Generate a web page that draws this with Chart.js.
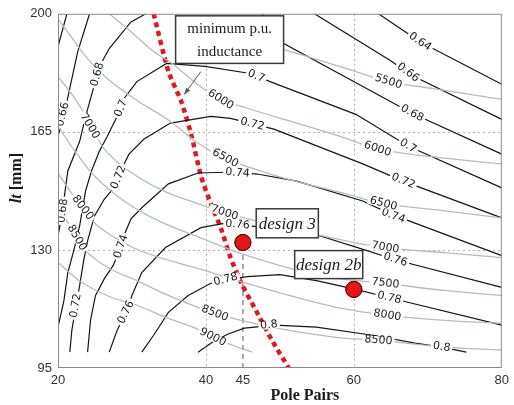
<!DOCTYPE html>
<html>
<head>
<meta charset="utf-8">
<script src="https://cdn.jsdelivr.net/npm/chart.js@4"></script>
<style>
  html, body { margin: 0; padding: 0; background: #fff; }
  #wrap { width: 514px; height: 405px; position: relative; }
</style>
</head>
<body>
<div id="wrap"><canvas id="chart" width="514" height="405"></canvas></div>
<script>
// axis ticks
const xTicks = [20, 40, 45, 60, 80];
const yTicks = [95, 130, 165, 200];

// black contours (p.u. inductance) as [pole pairs, lt]
const ind064a = [[20,190.3],[21.2,200]];
const ind064b = [[63.33,200],[68.93,191.7],[80,179.1]];
const ind066a = [[20,163.7],[21.2,174.0],[22.67,188.8],[24.27,200]];
const ind066b = [[54.67,200],[65.2,185.8],[67.33,182.3],[80,168.7]];
const ind068a = [[20,134.2],[20.5,140.1],[21.33,153.4],[22.93,162.2],[23.73,169.6],[24.67,177.0],[25.6,184.4],[26.93,189.7],[29.87,197.6],[31.87,200]];
const ind068b = [[47.6,200],[50.53,191.2],[67.87,170.5],[80,158.4]];
const ind070 = [[20,107.1],[20.8,115.0],[21.33,123.3],[22.13,129.8],[22.93,137.2],[23.73,147.5],[24.53,153.4],[25.6,159.3],[26.67,163.7],[28.0,169.6],[28.93,174.9],[30.67,179.9],[34.67,185.3],[39.87,184.4],[46.0,182.3],[48.67,179.9],[60.27,170.2],[67.33,160.8],[80,148.4]];
const ind072 = [[21.6,99.7],[21.87,106.2],[22.4,113.0],[22.93,119.5],[23.47,126.8],[24.0,132.7],[24.93,140.1],[26.27,145.1],[27.2,147.5],[28.0,150.4],[28.8,154.9],[29.6,158.4],[31.6,162.8],[35.2,167.6],[40.67,169.6],[43.33,169.0],[49.2,165.8],[61.2,155.5],[66.67,150.4],[80,139.5]];
const ind074 = [[24.0,99.7],[24.4,109.1],[25.07,116.5],[26.27,121.5],[27.47,125.4],[28.27,129.8],[29.07,135.1],[29.87,139.2],[31.33,142.5],[34.93,149.6],[38.93,152.8],[43.87,153.1],[46.93,152.5],[52.27,150.4],[61.2,144.5],[64.93,140.7],[80,128.3]];
const ind076 = [[26.93,99.7],[28.0,106.2],[29.2,111.5],[30.0,116.5],[31.33,123.3],[34.53,130.7],[39.33,136.6],[42.27,137.8],[46.93,136.9],[54.93,134.5],[60.93,130.4],[65.6,127.1],[80,118.9]];
const ind078 = [[31.33,99.7],[32.93,104.7],[34.93,111.5],[37.6,116.5],[40.67,120.1],[42.67,121.2],[45.6,122.1],[50.0,122.7],[54.93,120.9],[60.27,118.3],[64.67,115.9],[80,107.7]];
const ind080 = [[38.93,99.7],[40.93,102.7],[42.93,105.0],[45.2,106.8],[49.33,107.7],[54.93,107.1],[62.53,104.7],[68.27,102.4],[71.87,101.2],[75.2,99.7]];

// grey contours (speed)
const spd5500 = [[36.0,200],[42.93,193.2],[50.0,189.7],[58.93,183.8],[64.67,179.9],[70.53,177.9],[80,174.6]];
const spd6000 = [[26.93,200],[29.87,194.7],[32.93,188.8],[35.6,185.0],[39.2,178.5],[42.0,174.6],[45.6,172.0],[52.27,167.6],[58.93,163.1],[63.2,159.9],[72.27,157.2],[80,155.5]];
const spd6500 = [[20,198.5],[22.27,191.7],[24.0,186.7],[26.67,180.8],[30.27,174.9],[35.2,168.1],[38.93,161.7],[42.93,156.9],[49.6,151.9],[58.93,146.6],[64.0,143.7],[72.27,141.6],[80,139.5]];
const spd7000 = [[20,181.4],[22.27,174.9],[24.53,166.7],[26.27,159.9],[29.6,153.4],[34.27,147.5],[38.93,143.7],[42.53,141.0],[49.6,137.2],[58.93,132.7],[64.27,130.7],[72.27,129.2],[80,127.7]];
const spd7500 = [[20,166.7],[22.27,159.3],[24.93,151.9],[28.93,144.5],[33.6,138.6],[38.93,133.9],[45.6,128.3],[55.33,122.4],[64.27,120.1],[72.27,118.0],[80,116.5]];
const spd8000 = [[20,152.8],[21.6,147.5],[23.33,142.5],[25.33,137.2],[29.6,131.3],[32.93,128.3],[38.93,124.5],[44.27,120.9],[52.27,115.9],[57.6,113.0],[64.53,110.6],[72.27,109.1],[80,108.3]];
const spd8500 = [[20,142.5],[21.33,138.1],[22.53,133.6],[24.0,129.2],[26.93,124.5],[30.67,120.9],[34.93,116.5],[41.2,111.2],[49.6,106.8],[57.6,104.1],[63.33,103.2],[72.27,101.2],[80,100.3]];
const spd9000 = [[20,126.3],[23.2,120.4],[26.93,116.2],[30.67,113.6],[34.93,109.7],[38.27,107.1],[40.93,104.1],[44.27,101.2],[46.27,99.7]];

// minimum p.u. inductance locus
const minInductance = [[32.93,200],[34.93,182.9],[36.67,174.0],[38.0,164.3],[39.33,151.9],[40.67,143.7],[42.0,136.6],[43.33,127.7],[44.93,119.5],[46.53,113.0],[48.93,103.2],[51.2,95]];

// designs
const designNames = ['design 3', 'design 2b'];
const designPoles = [45, 60];
const designLt = [132.2, 118.3];

// contour labels: text, line, where
const contourLabels = [
  ['0.64', ind064b, [68.93,191.7]],
  ['0.66', ind066a, [20.67,170.2]],
  ['0.66', ind066b, [67.33,182.6]],
  ['0.68', ind068a, [25.33,182.0]],
  ['0.68', ind068a, [20.67,141.6]],
  ['0.68', ind068b, [67.87,170.5]],
  ['0.7', ind070, [28.53,172.0]],
  ['0.7', ind070, [46.8,181.5]],
  ['0.7', ind070, [67.33,160.8]],
  ['0.72', ind072, [28.2,151.5]],
  ['0.72', ind072, [22.4,113.5]],
  ['0.72', ind072, [46.27,167.3]],
  ['0.72', ind072, [66.67,150.4]],
  ['0.74', ind074, [28.53,131.0]],
  ['0.74', ind074, [44.27,152.8]],
  ['0.74', ind074, [65.33,140.1]],
  ['0.76', ind076, [29.2,111.5]],
  ['0.76', ind076, [44.27,137.5]],
  ['0.76', ind076, [65.6,127.1]],
  ['0.78', ind078, [42.67,121.2]],
  ['0.78', ind078, [64.8,115.8]],
  ['0.8', ind080, [48.53,107.7]],
  ['0.8', ind080, [71.87,101.2]],
  ['5500', spd5500, [64.67,179.9]],
  ['6000', spd6000, [42.0,174.6]],
  ['6000', spd6000, [63.2,159.9]],
  ['6500', spd6500, [42.6,157.2]],
  ['6500', spd6500, [64.0,143.7]],
  ['7000', spd7000, [24.27,166.7]],
  ['7000', spd7000, [42.53,141.0]],
  ['7000', spd7000, [64.27,130.7]],
  ['7500', spd7500, [64.27,120.1]],
  ['8000', spd8000, [23.33,142.5]],
  ['8000', spd8000, [64.53,110.6]],
  ['8500', spd8500, [22.53,133.6]],
  ['8500', spd8500, [41.2,111.2]],
  ['8500', spd8500, [63.33,103.2]],
  ['9000', spd9000, [40.93,104.1]]
];

const blackLines = [ind064a, ind064b, ind066a, ind066b, ind068a, ind068b, ind070, ind072, ind074, ind076, ind078, ind080];
const greyLines = [spd5500, spd6000, spd6500, spd7000, spd7500, spd8000, spd8500, spd9000];

const toPts = arr => arr.map(p => ({x: p[0], y: p[1]}));

const datasets = [];
greyLines.forEach(l => datasets.push({
  data: toPts(l), showLine: true, borderColor: '#adbfc1', borderWidth: 1.3,
  pointRadius: 0, tension: 0.35, fill: false
}));
blackLines.forEach(l => datasets.push({
  data: toPts(l), showLine: true, borderColor: '#151515', borderWidth: 1.2,
  pointRadius: 0, tension: 0, fill: false
}));
datasets.push({
  data: toPts(minInductance), showLine: true, borderColor: '#e8141b', borderWidth: 4.5,
  borderDash: [5, 4], pointRadius: 0, tension: 0.2, fill: false
});
datasets.push({
  data: [{x: designPoles[0], y: 95}, {x: designPoles[0], y: designLt[0]}], showLine: true,
  borderColor: '#777', borderWidth: 1.2, borderDash: [5, 4], pointRadius: 0, fill: false
});
datasets.push({
  data: designPoles.map((p, i) => ({x: p, y: designLt[i]})), showLine: false,
  pointRadius: 8, pointBackgroundColor: '#e8141b', pointBorderColor: '#5a0000', pointBorderWidth: 1
});

// dotted grid lines drawn under the data
const gridPlugin = {
  id: 'dotgrid',
  beforeDatasetsDraw(chart) {
    const ctx = chart.ctx, a = chart.chartArea;
    const xs = chart.scales.x, ys = chart.scales.y;
    ctx.save();
    ctx.strokeStyle = '#b0b0b0';
    ctx.lineWidth = 1;
    ctx.setLineDash([2, 3]);
    [40, 60].forEach(v => {
      const x = Math.round(xs.getPixelForValue(v)) + 0.5;
      ctx.beginPath(); ctx.moveTo(x, a.top); ctx.lineTo(x, a.bottom); ctx.stroke();
    });
    [130, 165].forEach(v => {
      const y = Math.round(ys.getPixelForValue(v)) + 0.5;
      ctx.beginPath(); ctx.moveTo(a.left, y); ctx.lineTo(a.right, y); ctx.stroke();
    });
    ctx.restore();
  }
};

// draws contour labels, boxes, frame and axis titles
const decorPlugin = {
  id: 'decor',
  afterDatasetsDraw(chart) {
    const ctx = chart.ctx;
    const xs = chart.scales.x, ys = chart.scales.y;
    const px = v => xs.getPixelForValue(v);
    const py = v => ys.getPixelForValue(v);
    const area = chart.chartArea;

    ctx.save();
    ctx.beginPath();
    ctx.rect(area.left, area.top, area.right - area.left, area.bottom - area.top);
    ctx.clip();

    // contour labels
    ctx.font = '11px "DejaVu Sans"';
    ctx.textAlign = 'center';
    ctx.textBaseline = 'middle';
    contourLabels.forEach(([txt, line, at]) => {
      const lx = px(at[0]), ly = py(at[1]);
      let best = 1e9, ang = 0;
      for (let i = 0; i < line.length - 1; i++) {
        const ax = px(line[i][0]), ay = py(line[i][1]);
        const bx = px(line[i + 1][0]), by = py(line[i + 1][1]);
        const dx = bx - ax, dy = by - ay;
        let t = ((lx - ax) * dx + (ly - ay) * dy) / (dx * dx + dy * dy);
        t = Math.max(0, Math.min(1, t));
        const d = Math.hypot(ax + t * dx - lx, ay + t * dy - ly);
        if (d < best) { best = d; ang = Math.atan2(dy, dx); }
      }
      if (ang > Math.PI / 2) ang -= Math.PI;
      if (ang < -Math.PI / 2) ang += Math.PI;
      const w = ctx.measureText(txt).width;
      ctx.save();
      ctx.translate(lx, ly);
      ctx.rotate(ang);
      ctx.fillStyle = '#fff';
      ctx.fillRect(-w / 2 - 2, -4, w + 4, 8);
      ctx.fillStyle = '#1a1a1a';
      ctx.fillText(txt, 0, 0);
      ctx.restore();
    });

    // arrow to the locus
    const a0x = px(39.33), a0y = py(182.9), a1x = px(37.07), a1y = py(176.1);
    ctx.strokeStyle = '#555';
    ctx.fillStyle = '#555';
    ctx.lineWidth = 1;
    ctx.beginPath(); ctx.moveTo(a0x, a0y); ctx.lineTo(a1x, a1y); ctx.stroke();
    const ah = Math.atan2(a1y - a0y, a1x - a0x);
    ctx.beginPath();
    ctx.moveTo(a1x, a1y);
    ctx.lineTo(a1x - 7 * Math.cos(ah - 0.35), a1y - 7 * Math.sin(ah - 0.35));
    ctx.lineTo(a1x - 7 * Math.cos(ah + 0.35), a1y - 7 * Math.sin(ah + 0.35));
    ctx.closePath(); ctx.fill();

    // annotation boxes
    const box = (x0, x1, y0, y1, lines, font) => {
      const l = px(x0), r = px(x1), t = py(y0), b = py(y1);
      ctx.fillStyle = '#fff';
      ctx.fillRect(l, t, r - l, b - t);
      ctx.strokeStyle = '#3a3a3a';
      ctx.lineWidth = 1.5;
      ctx.strokeRect(l, t, r - l, b - t);
      ctx.fillStyle = '#1a1a1a';
      ctx.font = font;
      ctx.textAlign = 'center';
      ctx.textBaseline = 'middle';
      const h = (b - t) / lines.length;
      lines.forEach((s, i) => ctx.fillText(s, (l + r) / 2, t + h * (i + 0.5) + 1));
    };
    box(35.9, 50.5, 199.4, 185.3, ['minimum p.u.', 'inductance'], '15px "Liberation Serif"');
    box(46.8, 55.2, 142.2, 133.6, [designNames[0]], 'italic 17px "Liberation Serif"');
    box(52.0, 61.2, 129.8, 121.5, [designNames[1]], 'italic 17px "Liberation Serif"');
    ctx.restore();

    // redraw design markers above boxes
    designPoles.forEach((p, i) => {
      ctx.beginPath();
      ctx.arc(px(p), py(designLt[i]), 8, 0, Math.PI * 2);
      ctx.fillStyle = '#e8141b';
      ctx.fill();
      ctx.strokeStyle = '#5a0000';
      ctx.lineWidth = 1;
      ctx.stroke();
    });

    // frame
    ctx.save();
    ctx.strokeStyle = '#8a8a8a';
    ctx.lineWidth = 1;
    ctx.strokeRect(area.left + 0.5, area.top + 0.5, area.right - area.left - 1, area.bottom - area.top - 1);

    // axis titles
    ctx.fillStyle = '#1a1a1a';
    ctx.textBaseline = 'middle';
    ctx.textAlign = 'center';
    ctx.font = 'bold 16px "Liberation Serif"';
    ctx.fillText('Pole Pairs', (area.left + area.right) / 2 + 25, 396);
    ctx.translate(17, 178);
    ctx.rotate(-Math.PI / 2);
    ctx.font = 'bold italic 16px "Liberation Serif"';
    const w1 = ctx.measureText('lt').width;
    ctx.font = 'bold 16px "Liberation Serif"';
    const w2 = ctx.measureText(' [mm]').width;
    ctx.textAlign = 'left';
    ctx.font = 'bold italic 16px "Liberation Serif"';
    ctx.fillText('lt', -(w1 + w2) / 2, 0);
    ctx.font = 'bold 16px "Liberation Serif"';
    ctx.fillText(' [mm]', -(w1 + w2) / 2 + w1, 0);
    ctx.restore();
  }
};

new Chart(document.getElementById('chart').getContext('2d'), {
  type: 'scatter',
  data: { datasets },
  options: {
    responsive: false,
    animation: false,
    events: [],
    layout: { padding: { top: 12, right: 6, left: 0, bottom: 0 } },
    plugins: { legend: { display: false }, tooltip: { enabled: false } },
    scales: {
      x: {
        type: 'linear', min: 20, max: 80,
        afterBuildTicks: s => { s.ticks = xTicks.map(v => ({ value: v })); },
        afterFit: s => { s.height = 37; },
        grid: { display: false, drawTicks: false },
        border: { display: false },
        ticks: { font: { family: 'Liberation Sans', size: 13 }, color: '#333', padding: 5, maxRotation: 0, autoSkip: false }
      },
      y: {
        type: 'linear', min: 95, max: 200,
        afterBuildTicks: s => { s.ticks = yTicks.map(v => ({ value: v })); },
        afterFit: s => { s.width = 58; },
        grid: { display: false, drawTicks: false },
        border: { display: false },
        ticks: { font: { family: 'Liberation Sans', size: 13 }, color: '#333', padding: 6, autoSkip: false }
      }
    }
  },
  plugins: [gridPlugin, decorPlugin]
});
</script>
</body>
</html>
